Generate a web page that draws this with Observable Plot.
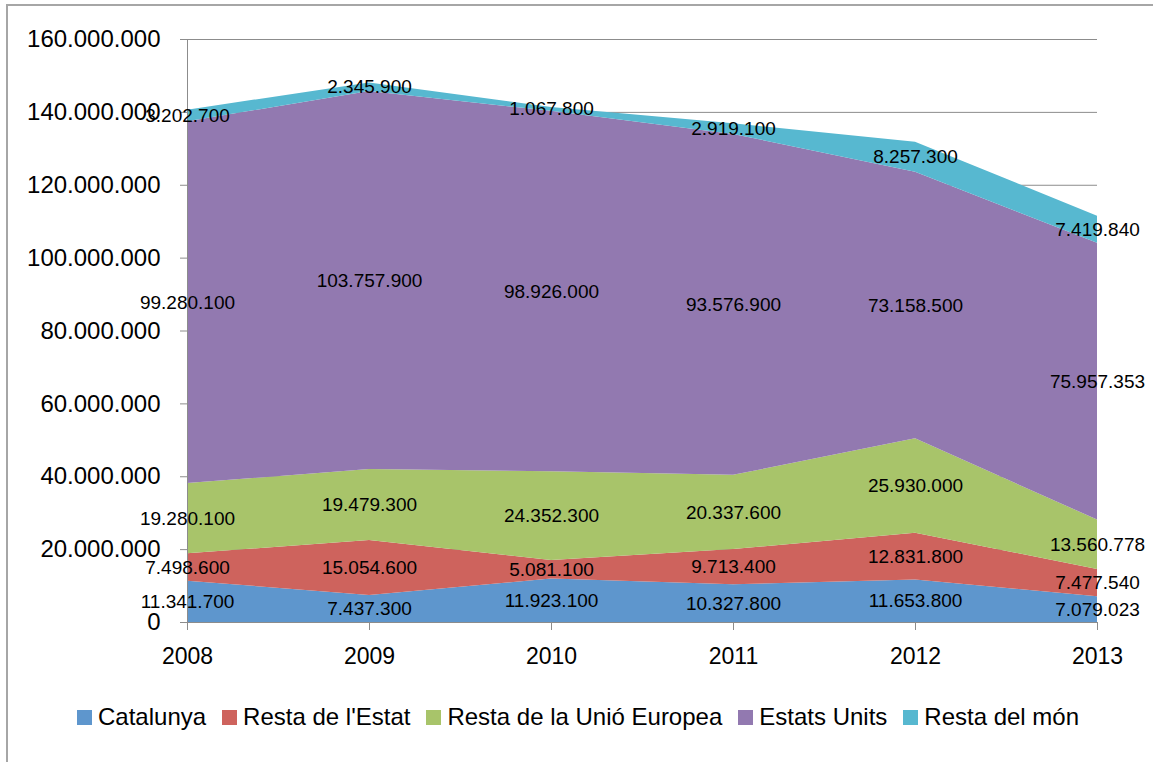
<!DOCTYPE html>
<html><head><meta charset="utf-8">
<script src="https://cdn.jsdelivr.net/npm/d3@7"></script>
<script src="https://cdn.jsdelivr.net/npm/@observablehq/plot@0.6"></script>
<style>
body{margin:0;background:#fff;font-family:"Liberation Sans",Arial,sans-serif;}
#wrap{position:relative;width:1153px;height:762px;overflow:hidden;background:#fff;}
#frame{position:absolute;left:6px;top:4px;width:1300px;height:900px;border-left:2px solid #a6a6a6;border-top:2px solid #a6a6a6;}
#chart{position:absolute;left:0;top:0;}
#legend{position:absolute;left:77px;top:703px;display:flex;align-items:center;font-size:24px;color:#000;white-space:nowrap;}
#legend .it{display:flex;align-items:center;margin-right:16px;}
#legend .sw{width:15px;height:15px;margin-right:6px;}
</style>
</head><body>
<div id="wrap"><div id="frame"></div><div id="chart"></div><div id="legend"></div></div>
<script>
const years = [2008, 2009, 2010, 2011, 2012, 2013];
const series = ["Catalunya", "Resta de l'Estat", "Resta de la Unió Europea", "Estats Units", "Resta del món"];
const colors = ["#5e96cd", "#ce635d", "#a8c46a", "#9279b0", "#57b8d0"];
const catalunya = [11341700, 7437300, 11923100, 10327800, 11653800, 7079023];
const restaEstat = [7498600, 15054600, 5081100, 9713400, 12831800, 7477540];
const restaUE = [19280100, 19479300, 24352300, 20337600, 25930000, 13560778];
const estatsUnits = [99280100, 103757900, 98926000, 93576900, 73158500, 75957353];
const restaMon = [3202700, 2345900, 1067800, 2919100, 8257300, 7419840];
const yTicks = [0, 20000000, 40000000, 60000000, 80000000, 100000000, 120000000, 140000000, 160000000];

const valuesBySeries = [catalunya, restaEstat, restaUE, estatsUnits, restaMon];
const data = [];
series.forEach((s, i) => years.forEach((y, j) => data.push({series: s, year: y, value: valuesBySeries[i][j]})));

const fmt = n => d3.format(",")(n).replace(/,/g, ".");
const font = "Liberation Sans, Arial, sans-serif";

const plot = Plot.plot({
  width: 1153, height: 690,
  marginLeft: 187, marginRight: 56, marginTop: 39, marginBottom: 68,
  style: {fontFamily: font, background: "transparent", overflow: "visible"},
  x: {type: "linear", domain: [2008, 2013]},
  y: {domain: [0, 160000000]},
  color: {domain: series, range: colors},
  marks: [
    Plot.ruleY(yTicks, {stroke: "#8c8c8c", strokeWidth: 1}),
    Plot.areaY(data, {x: "year", y: "value", z: "series", fill: "series", order: series}),
    Plot.ruleX([2008], {y1: 0, y2: 160000000, stroke: "#8c8c8c"}),
    Plot.axisY({ticks: yTicks, tickFormat: fmt, tickSize: 7, tickPadding: 20, fontSize: 24, stroke: "#8c8c8c", fill: "#000", label: null}),
    Plot.axisX({ticks: years, tickFormat: d => String(d), tickSize: 8, tickPadding: 17, fontSize: 23, stroke: "#8c8c8c", fill: "#000", label: null}),
    Plot.text(data, Plot.stackY({x: "year", y: "value", z: "series", order: series, text: d => fmt(d.value), fontSize: 19, fill: "#000"}))
  ]
});
document.getElementById("chart").appendChild(plot);

const leg = document.getElementById("legend");
series.forEach((s, i) => {
  const it = document.createElement("div"); it.className = "it";
  const sw = document.createElement("div"); sw.className = "sw"; sw.style.background = colors[i];
  const t = document.createElement("span"); t.textContent = s;
  it.appendChild(sw); it.appendChild(t); leg.appendChild(it);
});
</script>
</body></html>
